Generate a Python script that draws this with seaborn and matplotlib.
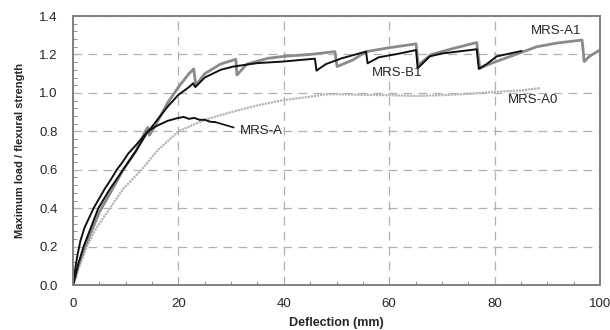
import pandas as pd
import matplotlib.pyplot as plt
import seaborn as sns
from matplotlib.ticker import MultipleLocator

# curves (deflection mm, load ratio)
a_x = [0, 0.4, 0.8, 1.4, 2.2, 3.9, 6, 7.2, 8.3, 9.4, 10.5, 12, 14.2, 16, 18, 19.7, 21, 22, 23, 24, 25, 26, 27]
a_y = [0, 0.08, 0.15, 0.23, 0.3, 0.4, 0.5, 0.55, 0.6, 0.64, 0.685, 0.73, 0.8, 0.83, 0.855, 0.868, 0.875, 0.865, 0.87, 0.86, 0.86, 0.85, 0.848]

a0_x = [0, 1, 2.6, 4.5, 7, 9.5, 13, 16, 20, 25, 30, 35, 40, 45, 48, 50, 55, 60, 65, 70, 75, 80, 85, 88.7]
a0_y = [0, 0.08, 0.2, 0.3, 0.4, 0.5, 0.6, 0.7, 0.8, 0.86, 0.9, 0.935, 0.963, 0.98, 0.993, 0.993, 0.99, 0.988, 0.984, 0.988, 0.995, 1.005, 1.013, 1.025]

a1_x = [0, 1, 2, 5, 7.5, 9.5, 12, 13.7, 14.2, 14.5, 16, 18, 20, 22, 22.9, 23.3, 25, 28, 30.9, 31.1, 33, 37, 40,
        45, 49.7, 50.1, 53, 55.7, 60, 65.1, 65.5, 68, 72, 76.6, 77.2, 79, 84, 88, 92, 96.6, 97, 98, 99.8]
a1_y = [0, 0.1, 0.18, 0.38, 0.5, 0.6, 0.7, 0.8, 0.82, 0.78, 0.85, 0.95, 1.03, 1.1, 1.125, 1.04, 1.1, 1.15, 1.175, 1.093, 1.15, 1.18, 1.19,
        1.2, 1.215, 1.137, 1.17, 1.215, 1.235, 1.255, 1.145, 1.2, 1.23, 1.262, 1.128, 1.15, 1.2, 1.24, 1.26, 1.275, 1.163, 1.19, 1.22]

b1_x = [0, 1, 2, 4.8, 7, 9.5, 12, 14, 16, 18, 20, 22, 22.8, 23.2, 25, 28, 30.4, 35, 39.8, 45.9, 46.2, 48, 51, 55.6, 55.9,
        58, 62, 65.1, 65.4, 67.7, 70, 73, 76.6, 77, 78.5, 80.4, 85.1]
b1_y = [0, 0.11, 0.2, 0.4, 0.5, 0.6, 0.7, 0.79, 0.86, 0.93, 0.99, 1.03, 1.05, 1.03, 1.08, 1.12, 1.137, 1.155, 1.163, 1.178, 1.116, 1.15, 1.18, 1.215, 1.154,
        1.185, 1.205, 1.223, 1.128, 1.19, 1.205, 1.215, 1.227, 1.125, 1.15, 1.19, 1.218]

names = ['MRS-A0', 'MRS-A1', 'MRS-B1', 'MRS-A']
xs = [a0_x, a1_x, b1_x, a_x]
ys = [a0_y, a1_y, b1_y, a_y]

df = pd.concat([pd.DataFrame({'x': x, 'y': y, 'serie': n}) for n, x, y in zip(names, xs, ys)])

sns.set_style('white')
plt.rcParams['font.family'] = ['Liberation Sans', 'DejaVu Sans']

fig = plt.figure(figsize=(6.1, 3.3), dpi=100)
ax = fig.add_axes([0.1197, 0.136, 0.8639, 0.8155])

colors = {'MRS-A0': '#b4b4b4', 'MRS-A1': '#8a8a8a', 'MRS-B1': '#111111', 'MRS-A': '#111111'}
widths = {'MRS-A0': 1.6, 'MRS-A1': 2.0, 'MRS-B1': 1.4, 'MRS-A': 1.4}
for n in names:
    sub = df[df['serie'] == n]
    sns.lineplot(data=sub, x='x', y='y', color=colors[n], lw=widths[n], sort=False,
                 estimator=None, ax=ax, linestyle=(0, (1, 0.4)) if n == 'MRS-A0' else '-')

ax.set_xlim(0, 100)
ax.set_ylim(0, 1.4)
ax.xaxis.set_major_locator(MultipleLocator(20))
ax.xaxis.set_minor_locator(MultipleLocator(5))
ax.yaxis.set_major_locator(MultipleLocator(0.2))
ax.yaxis.set_minor_locator(MultipleLocator(0.04))
ax.set_yticks([i * 0.2 for i in range(8)])
ax.set_yticklabels(['%.1f' % (i * 0.2) for i in range(8)])
ax.grid(True, which='major', color='#b0b0b0', linestyle=(0, (7, 5)), lw=0.9)
ax.tick_params(which='both', direction='in', color='#808080', labelsize=9.5)
ax.tick_params(axis='y', pad=11)
ax.tick_params(axis='x', pad=9)
ax.tick_params(which='major', length=4)
ax.tick_params(which='minor', length=3, left=True, bottom=True)
for s in ax.spines.values():
    s.set_color('#808080')
    s.set_linewidth(1.4)

ax.set_xlabel('Deflection (mm)', fontsize=9, fontweight='bold', labelpad=5)
ax.set_ylabel('Maximum load / flexural strength', fontsize=8, fontweight='bold', labelpad=10)

ax.text(91.6, 1.324, 'MRS-A1', fontsize=9.5, ha='center', va='center')
ax.text(56.7, 1.105, 'MRS-B1', fontsize=9.5, ha='left', va='center')
ax.text(82.5, 0.963, 'MRS-A0', fontsize=9.5, ha='left', va='center')
ax.text(31.7, 0.80, 'MRS-A', fontsize=9.5, ha='left', va='center')
ax.plot([27, 30.5], [0.848, 0.82], color='#111111', lw=1.2)

fig.savefig('out.png', dpi=100)
